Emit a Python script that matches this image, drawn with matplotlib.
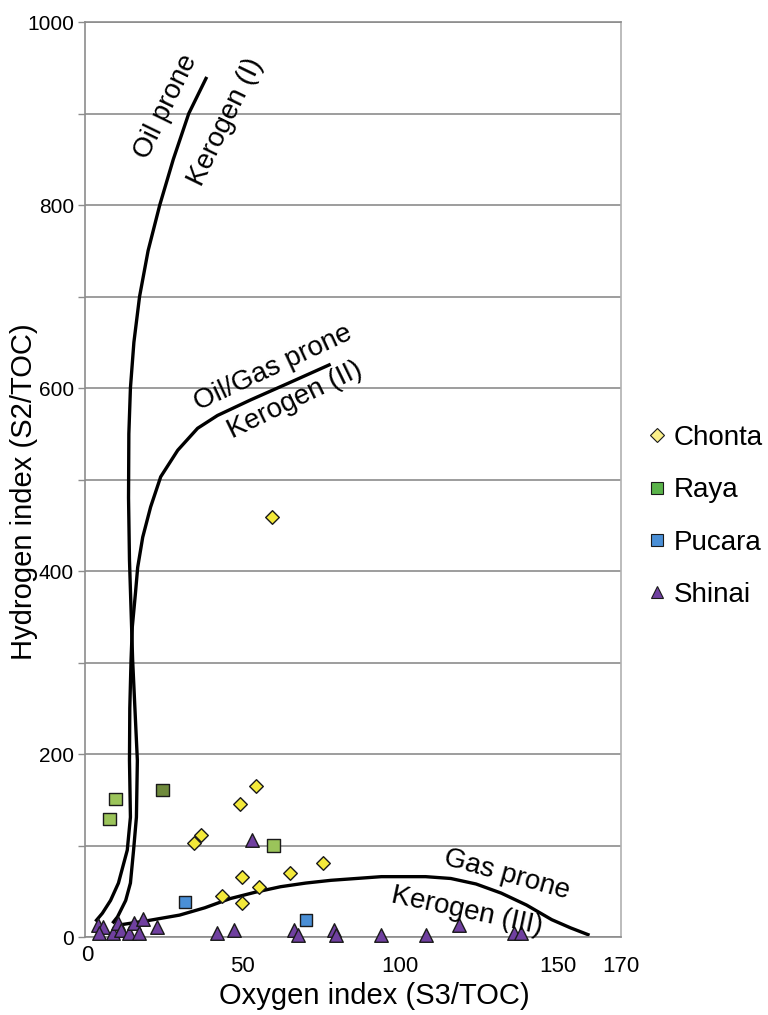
#!/usr/bin/env python3
"""
Pseudo van Krevelen diagram - hydrogen index vs oxygen index by formation
"""

import matplotlib
matplotlib.use("Agg")
import matplotlib.pyplot as plt

plt.rcParams['font.family'] = ['Liberation Sans', 'DejaVu Sans']

# Samples per formation (oxygen index, hydrogen index)
CHONTA_OI = [59.2, 54.1, 49.0, 36.8, 34.6, 75.6, 64.9, 49.8, 55.1, 43.3, 49.8]
CHONTA_HI = [459, 165, 145, 111, 103, 81, 70, 66, 55, 45, 37]

RAYA_OI = [9.7, 7.8, 24.6, 59.8]
RAYA_HI = [151, 129, 161, 100]

PUCARA_OI = [31.6, 70.0]
PUCARA_HI = [38, 19]

SHINAI_OI = [4.0, 5.6, 4.3, 9.0, 10.6, 11.3, 13.8, 15.4, 17.0, 18.3, 22.7,
             52.9, 41.7, 47.1, 66.2, 67.5, 78.9, 79.5, 93.8, 108.0, 118.6,
             136.0, 138.3]
SHINAI_HI = [13, 11, 4, 4, 15, 8, 4, 15, 4, 20, 11,
             106, 4, 8, 8, 2, 8, 2, 2, 2, 13,
             4, 4]

# Kerogen type boundary curves
TYPE1_OI = [38.6, 32.9, 28.0, 23.7, 20.0, 17.3, 15.5, 14.4, 13.9, 13.8, 14.1,
            15.1, 16.6, 16.3, 15.4, 14.4, 12.9, 10.3, 8.7]
TYPE1_HI = [940, 900, 850, 800, 750, 700, 650, 600, 550, 480, 412,
            303, 193, 131, 95, 59, 40, 22, 15]

TYPE2_OI = [77.9, 64.3, 52.5, 42.0, 35.7, 29.4, 24.0, 20.8, 18.3, 16.7, 16.0,
            15.0, 14.6, 14.2, 14.1, 14.4, 13.4, 10.6, 8.1, 5.5, 3.3]
TYPE2_HI = [626, 605, 587, 570, 556, 532, 503, 470, 437, 404, 376,
            339, 303, 250, 193, 131, 95, 59, 40, 26, 17]

TYPE3_OI = [10.5, 20, 30, 38, 46, 54, 62, 70, 78, 86, 94, 100, 108, 116,
            124, 132, 140, 148, 154, 160]
TYPE3_HI = [13, 18, 24, 32, 42, 49, 55, 59, 62, 64, 66, 66, 66, 64,
            58, 48, 35, 19, 10, 2]

X_TICKS = [50, 100, 150, 170]
Y_TICKS = [0, 200, 400, 600, 800, 1000]

EDGE = '#1a1a1a'
GRID = '#8c8c8c'


def main():
    fig = plt.figure(figsize=(7.68, 10.15), dpi=100)
    ax = fig.add_axes([0.1107, 0.0768, 0.698, 0.9015])

    # horizontal grid every 100
    for y in range(0, 1001, 100):
        ax.axhline(y, color=GRID, lw=1.2, zorder=0)

    # kerogen curves
    for xs, ys in [(TYPE1_OI, TYPE1_HI), (TYPE2_OI, TYPE2_HI), (TYPE3_OI, TYPE3_HI)]:
        ax.plot(xs, ys, color='black', lw=2.4, solid_capstyle='butt',
                solid_joinstyle='round', zorder=2)

    ax.scatter(CHONTA_OI, CHONTA_HI, marker='D', s=48, c='#f3e93a',
               edgecolors=EDGE, linewidths=1.0, zorder=3, label='Chonta')
    raya_colors = ['#9bc45a', '#9bc45a', '#6f8a3c', '#9bc45a']
    ax.scatter(RAYA_OI, RAYA_HI, marker='s', s=80, c=raya_colors,
               edgecolors=EDGE, linewidths=1.0, zorder=3)
    ax.scatter(PUCARA_OI, PUCARA_HI, marker='s', s=80, c='#4a8fd6',
               edgecolors=EDGE, linewidths=1.0, zorder=3)
    ax.scatter(SHINAI_OI, SHINAI_HI, marker='^', s=95, c='#7040a0',
               edgecolors=EDGE, linewidths=1.0, zorder=3, clip_on=False)

    # legend proxies
    h_chonta = plt.Line2D([], [], ls='none', marker='D', ms=7, mfc='#fbf08a',
                          mec=EDGE, mew=0.8)
    h_raya = plt.Line2D([], [], ls='none', marker='s', ms=9, mfc='#5ab34a',
                        mec=EDGE, mew=0.8)
    h_pucara = plt.Line2D([], [], ls='none', marker='s', ms=9, mfc='#4a8fd6',
                          mec=EDGE, mew=0.8)
    h_shinai = plt.Line2D([], [], ls='none', marker='^', ms=9, mfc='#7040a0',
                          mec=EDGE, mew=0.8)
    fig.legend([h_chonta, h_raya, h_pucara, h_shinai],
               ['Chonta', 'Raya', 'Pucara', 'Shinai'],
               loc='center left', bbox_to_anchor=(0.843, 0.491),
               frameon=False, fontsize=20, handlelength=0.7,
               handletextpad=0.25, labelspacing=0.95, borderpad=0,
               borderaxespad=0)

    # curve labels
    txt = dict(fontsize=20, ha='center', va='center', rotation_mode='anchor')
    ax.text(25.6, 907, 'Oil prone', rotation=64, **txt)
    ax.text(44.6, 891, 'Kerogen (I)', rotation=64, **txt)
    ax.text(59.5, 622, 'Oil/Gas prone', rotation=25, **txt)
    ax.text(66.5, 587, 'Kerogen (II)', rotation=26, **txt)
    ax.text(133.8, 68, 'Gas prone', rotation=-15.5, **txt)
    ax.text(121, 28, 'Kerogen (III)', rotation=-12, **txt)

    ax.set_xlim(0, 170)
    ax.set_ylim(0, 1000)

    ax.set_xticks(X_TICKS)
    ax.set_xticklabels([str(t) for t in X_TICKS])
    ax.tick_params(axis='x', length=0, pad=14, labelsize=16)
    ax.annotate('0', xy=(0, 0), xycoords=('data', 'axes fraction'),
                xytext=(2, -6), textcoords='offset points',
                ha='center', va='top', fontsize=16)

    ax.set_yticks(Y_TICKS)
    ax.set_yticks(range(100, 1000, 200), minor=True)
    ax.tick_params(axis='y', which='both', length=5, width=1.0, color=GRID,
                   pad=3, labelsize=15)

    for side in ['left', 'right', 'top', 'bottom']:
        ax.spines[side].set_color(GRID)
        ax.spines[side].set_linewidth(1.2)
    ax.spines['right'].set_color('#b0b0b0')

    ax.set_xlabel('Oxygen index (S3/TOC)', fontsize=21)
    ax.xaxis.set_label_coords(0.54, -0.049)
    ax.set_ylabel('Hydrogen index (S2/TOC)', fontsize=21)
    ax.yaxis.set_label_coords(-0.088, 0.487)

    fig.savefig('out.png', dpi=100)
    plt.close(fig)


if __name__ == "__main__":
    main()
